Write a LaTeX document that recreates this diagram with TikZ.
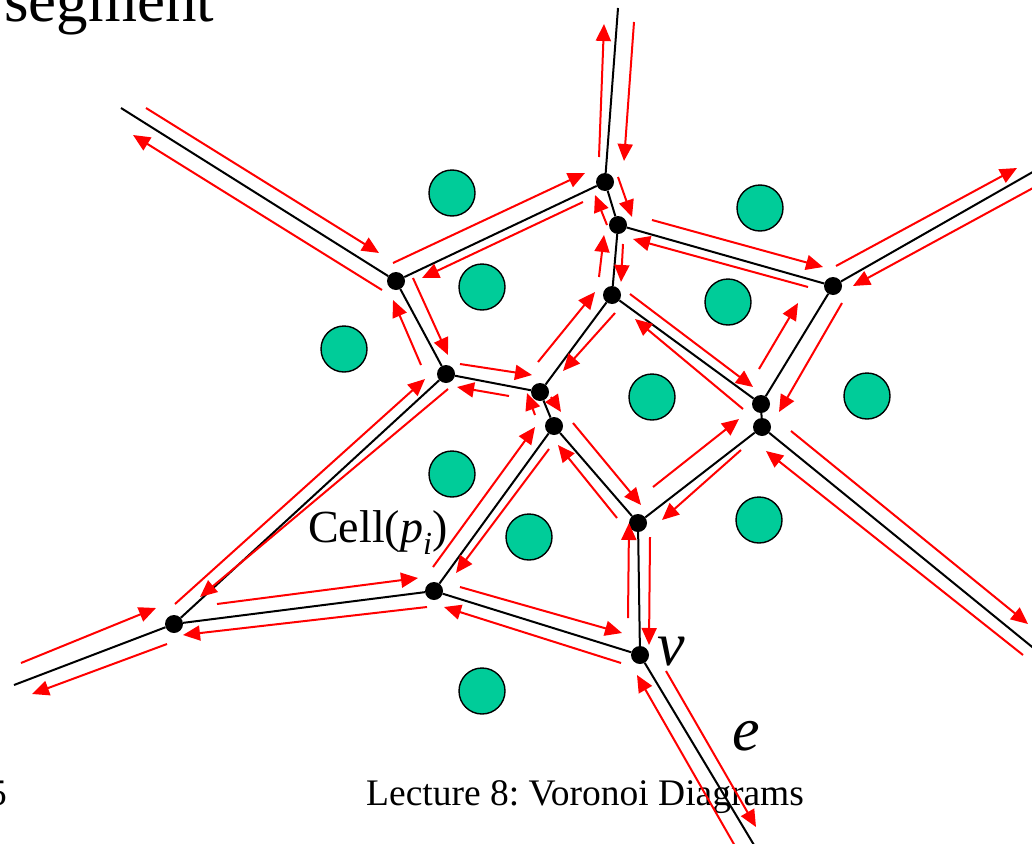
\documentclass[tikz,border=0pt]{standalone}
\usepackage{fontspec}
\setmainfont{Liberation Serif}
\usetikzlibrary{calc,arrows.meta}
\definecolor{sitecol}{HTML}{00CC99}
\definecolor{hred}{HTML}{FF0000}
\frenchspacing
\begin{document}
\begin{tikzpicture}[x=1pt,y=-1pt,
  edge/.style={line width=2pt, black},
  he/.style={line width=2pt, hred, -{Triangle[length=17pt,width=15pt]}},
  vtx/.style={circle, fill=black, minimum size=18pt, inner sep=0pt},
  site/.style={circle, draw=black, line width=1.4pt, fill=sitecol, minimum size=46pt, inner sep=0pt},
  lbl/.style={anchor=base west, inner sep=0pt}
]
\useasboundingbox (0,0) rectangle (1032,843);

% texts
\node[lbl, font=\fontsize{63}{70}\selectfont] (tseg) at (4,22) {segment};
\node[lbl, font=\fontsize{37.5}{42}\selectfont] (tlec) at (366,805) {Lecture 8: Voronoi Diagrams};
\node[lbl, font=\fontsize{37.5}{42}\selectfont] (tnum) at (-12,805) {5};
\node[lbl, font=\fontsize{46}{52}\selectfont] (tcell) at (308,542) {Cell(\textit{p}\textsubscript{\textit{i}})};
\node[lbl, font=\fontsize{62}{70}\selectfont\itshape] (tv) at (657,665) {v};
\node[lbl, font=\fontsize{62}{70}\selectfont\itshape] (te) at (732,750) {e};

% sites
\foreach \p/\n in {{(452,193)}/s1,{(760,208)}/s2,{(482,287)}/s3,{(728,302)}/s4,{(344,349)}/s5,{(652,397)}/s6,{(867,396)}/s7,{(452,474)}/s8,{(529,537)}/s9,{(759,520)}/s10,{(482,691)}/s11}
  \node[site] (\n) at \p {};

% Voronoi vertices
\node[vtx] (A) at (605,182) {};
\node[vtx] (B) at (618,225) {};
\node[vtx] (C) at (612,295) {};
\node[vtx] (D) at (396,281) {};
\node[vtx] (E) at (446,374) {};
\node[vtx] (F) at (540,392) {};
\node[vtx] (G) at (554,426) {};
\node[vtx] (H) at (833,286) {};
\node[vtx] (I) at (761,404) {};
\node[vtx] (J) at (762,427) {};
\node[vtx] (K) at (638,523) {};
\node[vtx] (L) at (434,591) {};
\node[vtx] (M) at (174,624) {};
\node[vtx] (N) at (640,655) {};
\coordinate (T1) at (618,8);
\coordinate (T2) at (121,108);
\coordinate (T3) at (1045,165);
\coordinate (T4) at (1042,655);
\coordinate (T5) at (757,850);
\coordinate (T6) at (14,685);

% Voronoi edges
\draw[edge] (A) -- (T1);
\draw[edge] (A) -- (D);
\draw[edge] (A) -- (B);
\draw[edge] (B) -- (C);
\draw[edge] (B) -- (H);
\draw[edge] (C) -- (F);
\draw[edge] (C) -- (I);
\draw[edge] (D) -- (E);
\draw[edge] (D) -- (T2);
\draw[edge] (E) -- (F);
\draw[edge] (E) -- (M);
\draw[edge] (F) -- (G);
\draw[edge] (G) -- (L);
\draw[edge] (G) -- (K);
\draw[edge] (H) -- (I);
\draw[edge] (H) -- (T3);
\draw[edge] (I) -- (J);
\draw[edge] (J) -- (K);
\draw[edge] (J) -- (T4);
\draw[edge] (K) -- (N);
\draw[edge] (L) -- (M);
\draw[edge] (L) -- (N);
\draw[edge] (M) -- (T6);
\draw[edge] (N) -- (T5);

% half-edges
\draw[he] ($(A)+(-6,-25)$) -- ($(T1)+(-14,16)$);
\draw[he] ($(T1)+(16,14)$) -- ($(A)+(19,-21)$);
\draw[he] ($(D)+(-3,-18)$) -- ($(A)+(-20,-9)$);
\draw[he] ($(A)+(-22,20)$) -- ($(D)+(26,-3)$);
\draw[he] ($(A)+(13,-5)$) -- ($(B)+(14,-8)$);
\draw[he] ($(B)+(-11,0)$) -- ($(A)+(-10,13)$);
\draw[he] ($(B)+(5,19)$) -- ($(C)+(9,-13)$);
\draw[he] ($(C)+(-13,-18)$) -- ($(B)+(-14,10)$);
\draw[he] ($(B)+(34,-5)$) -- ($(H)+(-10,-19)$);
\draw[he] ($(H)+(-25,1)$) -- ($(B)+(15,14)$);
\draw[he] ($(F)+(-2,-30)$) -- ($(C)+(-17,-3)$);
\draw[he] ($(C)+(3,18)$) -- ($(F)+(23,-21)$);
\draw[he] ($(C)+(18,-1)$) -- ($(I)+(-8,-17)$);
\draw[he] ($(I)+(-18,5)$) -- ($(C)+(23,24)$);
\draw[he] ($(D)+(17,-3)$) -- ($(E)+(2,-19)$);
\draw[he] ($(E)+(-25,-9)$) -- ($(D)+(-3,19)$);
\draw[he] ($(T2)+(25,0)$) -- ($(D)+(-17,-28)$);
\draw[he] ($(D)+(-14,9)$) -- ($(T2)+(12,27)$);
\draw[he] ($(E)+(14,-10)$) -- ($(F)+(-8,-17)$);
\draw[he] ($(F)+(-31,4)$) -- ($(E)+(11,13)$);
\draw[he] ($(M)+(1,-20)$) -- ($(E)+(-21,5)$);
\draw[he] ($(E)+(2,15)$) -- ($(M)+(26,-27)$);
\draw[he] ($(F)+(11,5)$) -- ($(G)+(7,-14)$);
\draw[he] ($(G)+(-19,-11)$) -- ($(F)+(-13,1)$);
\draw[he] ($(L)+(-1,-24)$) -- ($(G)+(-19,1)$);
\draw[he] ($(G)+(-5,23)$) -- ($(L)+(22,-18)$);
\draw[he] ($(G)+(19,-3)$) -- ($(K)+(3,-18)$);
\draw[he] ($(K)+(-21,-5)$) -- ($(G)+(4,19)$);
\draw[he] ($(I)+(-2,-35)$) -- ($(H)+(-35,17)$);
\draw[he] ($(H)+(9,17)$) -- ($(I)+(18,8)$);
\draw[he] ($(H)+(3,-20)$) -- ($(T3)+(-28,3)$);
\draw[he] ($(T3)+(-12,23)$) -- ($(H)+(20,0)$);
\draw[he] ($(K)+(15,-36)$) -- ($(J)+(-23,-8)$);
\draw[he] ($(J)+(-21,23)$) -- ($(K)+(24,-3)$);
\draw[he] ($(J)+(29,4)$) -- ($(T4)+(-14,-31)$);
\draw[he] ($(T4)+(-19,0)$) -- ($(J)+(4,24)$);
\draw[he] ($(K)+(12,14)$) -- ($(N)+(9,-10)$);
\draw[he] ($(N)+(-12,-37)$) -- ($(K)+(-9,0)$);
\draw[he] ($(M)+(43,-20)$) -- ($(L)+(-16,-13)$);
\draw[he] ($(L)+(-7,16)$) -- ($(M)+(9,11)$);
\draw[he] ($(L)+(26,-4)$) -- ($(N)+(-18,-22)$);
\draw[he] ($(N)+(-19,8)$) -- ($(L)+(10,16)$);
\draw[he] ($(M)+(-7,20)$) -- ($(T6)+(18,9)$);
\draw[he] ($(T6)+(7,-22)$) -- ($(M)+(-18,-16)$);
\draw[he] ($(N)+(26,16)$) -- ($(T5)+(-1,-23)$);
\draw[he] ($(T5)+(-22,-4)$) -- ($(N)+(-3,20)$);
\end{tikzpicture}
\end{document}
